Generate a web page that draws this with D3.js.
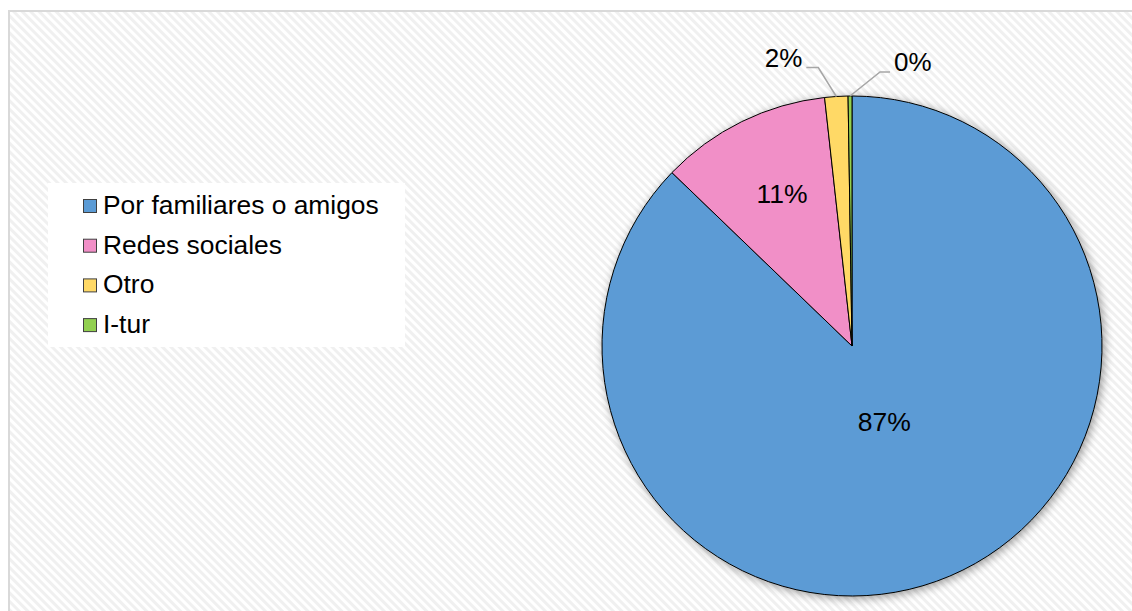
<!DOCTYPE html>
<html>
<head>
<meta charset="utf-8">
<script src="https://cdnjs.cloudflare.com/ajax/libs/d3/7.8.5/d3.min.js"></script>
<style>
  body { margin: 0; background: #fff; }
  svg { display: block; font-family: "Liberation Sans", Arial, sans-serif; }
</style>
</head>
<body>
<div id="chart"></div>
<script>
// data (percent of answers)
var categories = ["Por familiares o amigos", "Redes sociales", "Otro", "I-tur"];
var values = [87.2, 11.05, 1.5, 0.25];
var colors = ["#5b9bd5", "#f18fc7", "#ffd966", "#92d050"];

var W = 1132, H = 611;
var cx = 852, cy = 346, r = 250;

var svg = d3.select("#chart").append("svg")
  .attr("width", W)
  .attr("height", H);

var defs = svg.append("defs");

// diagonal hatch background
var pat = defs.append("pattern")
  .attr("id", "hatch")
  .attr("patternUnits", "userSpaceOnUse")
  .attr("width", 6).attr("height", 6)
  .attr("patternTransform", "rotate(-45)");
pat.append("rect").attr("width", 6).attr("height", 6).attr("fill", "#fff");
pat.append("rect").attr("width", 3).attr("height", 6).attr("fill", "#f0f0f0");

// soft shadow under pie
var f = defs.append("filter").attr("id", "shadow")
  .attr("x", "-20%").attr("y", "-20%").attr("width", "140%").attr("height", "140%");
f.append("feGaussianBlur").attr("in", "SourceAlpha").attr("stdDeviation", 5);
f.append("feOffset").attr("dx", 2).attr("dy", 2).attr("result", "blur");
f.append("feComponentTransfer").append("feFuncA").attr("type", "linear").attr("slope", 0.4);
var fm = f.append("feMerge");
fm.append("feMergeNode");
fm.append("feMergeNode").attr("in", "SourceGraphic");

// frame
svg.append("rect")
  .attr("x", 9).attr("y", 11)
  .attr("width", 1140).attr("height", 620)
  .attr("fill", "url(#hatch)")
  .attr("stroke", "#d9d9d9")
  .attr("stroke-width", 2);

// pie
var pie = d3.pie().sort(null).value(function(d) { return d; });
var arcs = pie(values);
var arc = d3.arc().innerRadius(0).outerRadius(r);

var g = svg.append("g")
  .attr("transform", "translate(" + cx + "," + cy + ")");

g.append("g").attr("filter", "url(#shadow)")
  .selectAll("path")
  .data(arcs)
  .enter().append("path")
    .attr("d", arc)
    .attr("fill", function(d, i) { return colors[i]; })
    .attr("stroke", "#000")
    .attr("stroke-width", 1);

var total = d3.sum(values);
function pct(d) { return Math.round(d.value / total * 100) + "%"; }

// labels inside for big slices
arcs.forEach(function(d, i) {
  var frac = d.value / total;
  var mid = (d.startAngle + d.endAngle) / 2;
  if (frac > 0.05) {
    var lr = frac > 0.5 ? r * 0.33 : r * 0.68;
    g.append("text")
      .attr("x", Math.sin(mid) * lr + (frac > 0.5 ? 0 : 5))
      .attr("y", -Math.cos(mid) * lr)
      .attr("dy", "0.35em")
      .attr("text-anchor", "middle")
      .attr("font-size", 26.5)
      .attr("fill", "#000")
      .text(pct(d));
  }
});

// small slices: outside labels with leader lines
var smalls = arcs.filter(function(d) { return d.value / total <= 0.05; });
smalls.forEach(function(d, k) {
  var mid = (d.startAngle + d.endAngle) / 2;
  var sx = Math.sin(mid) * r, sy = -Math.cos(mid) * r;
  var left = k === 0;
  var ex = left ? sx - 18 : sx + 30;
  var ey = left ? sy - 29 : sy - 24;
  var hx = left ? ex - 12 : ex + 10;
  g.append("polyline")
    .attr("points", [[sx, sy], [ex, ey], [hx, ey]].map(function(p) { return p.join(","); }).join(" "))
    .attr("fill", "none")
    .attr("stroke", "#a6a6a6")
    .attr("stroke-width", 1.5);
  g.append("text")
    .attr("x", left ? hx - 4 : hx + 4)
    .attr("y", ey - 1)
    .attr("text-anchor", left ? "end" : "start")
    .attr("font-size", 26)
    .attr("fill", "#000")
    .text(pct(d));
});

// legend
var lg = svg.append("g");
lg.append("rect")
  .attr("x", 48).attr("y", 183)
  .attr("width", 357).attr("height", 164)
  .attr("fill", "#fff");

var row = lg.selectAll("g.item")
  .data(categories)
  .enter().append("g")
    .attr("class", "item")
    .attr("transform", function(d, i) { return "translate(83," + (214 + i * 39.7) + ")"; });

row.append("rect")
  .attr("x", 0.5).attr("y", -14.5)
  .attr("width", 13).attr("height", 13)
  .attr("fill", function(d, i) { return colors[i]; })
  .attr("stroke", "#404040")
  .attr("stroke-width", 1);

row.append("text")
  .attr("x", 20)
  .attr("y", 0)
  .attr("font-size", 26.4)
  .attr("fill", "#000")
  .text(function(d) { return d; });
</script>
</body>
</html>
